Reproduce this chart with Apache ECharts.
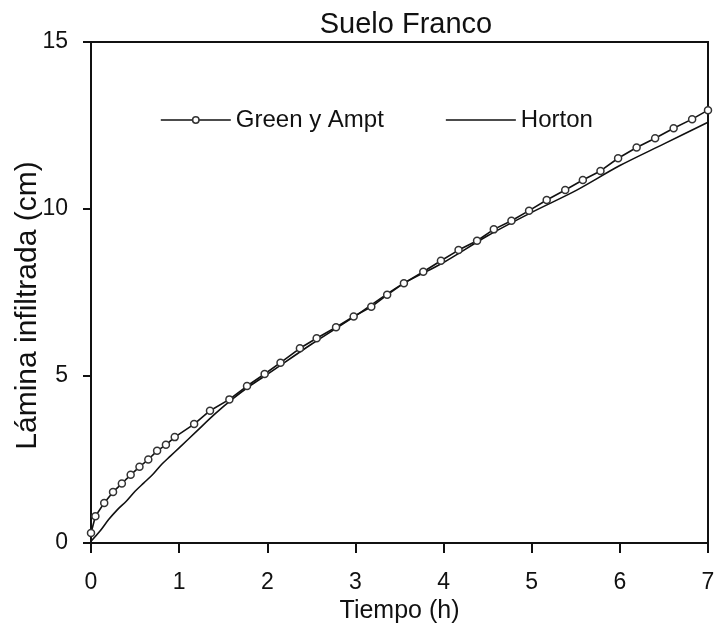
<!DOCTYPE html>
<html>
<head>
<meta charset="utf-8">
<script src="https://cdn.jsdelivr.net/npm/echarts@6/dist/echarts.min.js"></script>
<style>
  html, body { margin: 0; padding: 0; background: #fff; }
  #chart { width: 718px; height: 633px; }
</style>
</head>
<body>
<div id="chart"></div>
<script>
// --- Data ---
const gaTime = [0, 0.05, 0.15, 0.25, 0.35, 0.45, 0.55, 0.65, 0.75, 0.85, 0.95,
  1.17, 1.35, 1.57, 1.77, 1.97, 2.15, 2.37, 2.56, 2.78, 2.98, 3.18, 3.36, 3.55,
  3.77, 3.97, 4.17, 4.38, 4.57, 4.77, 4.97, 5.17, 5.38, 5.58, 5.78, 5.98, 6.19,
  6.4, 6.61, 6.82, 7.0];
const gaDepth = [0.3, 0.8, 1.2, 1.53, 1.78, 2.04, 2.28, 2.5, 2.76, 2.94, 3.17,
  3.56, 3.96, 4.3, 4.7, 5.06, 5.4, 5.83, 6.13, 6.46, 6.78, 7.07, 7.43, 7.78,
  8.12, 8.45, 8.77, 9.05, 9.39, 9.65, 9.95, 10.27, 10.57, 10.87, 11.14, 11.52,
  11.84, 12.12, 12.42, 12.69, 12.96];

const hortonTime = [0, 0.1, 0.2, 0.3, 0.4, 0.5, 0.6, 0.7, 0.8, 0.9, 1.0, 1.2,
  1.4, 1.6, 1.8, 2.0, 2.5, 3.0, 3.5, 4.0, 4.5, 5.0, 5.5, 6.0, 6.5, 7.0];
const hortonDepth = [0.05, 0.35, 0.7, 1.0, 1.25, 1.55, 1.8, 2.05, 2.35, 2.6,
  2.85, 3.35, 3.85, 4.3, 4.7, 5.05, 5.95, 6.8, 7.7, 8.4, 9.2, 9.9, 10.55, 11.3,
  11.95, 12.6];

const seriesNames = ['Green y Ampt', 'Horton'];
const xTicks = [0, 7, 1];   // min, max, interval
const yTicks = [0, 15, 5];

const font = '"Liberation Sans", Arial, sans-serif';
const ink = '#111';
const zip = (a, b) => a.map((v, i) => [v, b[i]]);

const chart = echarts.init(document.getElementById('chart'));
chart.setOption({
  animation: false,
  backgroundColor: '#fff',
  title: {
    text: 'Suelo Franco',
    left: 401, top: 5, textAlign: 'center',
    textStyle: { fontFamily: font, fontSize: 29, fontWeight: 'normal', color: ink }
  },
  legend: {
    left: 155, top: 103,
    itemWidth: 70, itemHeight: 8, itemGap: 62,
    textStyle: { fontFamily: font, fontSize: 24, color: ink },
    data: [
      {
        name: seriesNames[0],
        itemStyle: { color: '#fff', borderColor: '#333', borderWidth: 1.5 },
        lineStyle: { color: ink, width: 1.6 }
      },
      {
        name: seriesNames[1],
        icon: 'path://M0,0 L70,0 L70,1.6 L0,1.6 Z',
        itemStyle: { color: ink }
      }
    ]
  },
  grid: {
    left: 91, right: 10, top: 42, bottom: 90,
    outerBoundsMode: 'none', containLabel: false,
    show: true, borderColor: ink, borderWidth: 2
  },
  xAxis: {
    type: 'value', min: xTicks[0], max: xTicks[1], interval: xTicks[2],
    name: 'Tiempo (h)', nameLocation: 'middle', nameGap: 56, nameMoveOverlap: false,
    nameTextStyle: { fontFamily: font, fontSize: 25, color: ink },
    axisLine: { onZero: false, lineStyle: { color: ink, width: 2 } },
    axisTick: { length: 10, lineStyle: { color: ink, width: 2 } },
    axisLabel: { fontFamily: font, fontSize: 23, color: ink, margin: 28 },
    splitLine: { show: false }
  },
  yAxis: {
    type: 'value', min: yTicks[0], max: yTicks[1], interval: yTicks[2],
    name: 'Lámina infiltrada (cm)', nameLocation: 'middle', nameGap: 48, nameMoveOverlap: false,
    nameTextStyle: { fontFamily: font, fontSize: 30, color: ink, padding: [0, 26, 0, 0] },
    axisLine: { onZero: false, lineStyle: { color: ink, width: 2 } },
    axisTick: { length: 8, lineStyle: { color: ink, width: 2 } },
    axisLabel: { fontFamily: font, fontSize: 23, color: ink, margin: 23 },
    splitLine: { show: false }
  },
  series: [
    {
      name: seriesNames[0], type: 'line', data: zip(gaTime, gaDepth),
      symbol: 'circle', symbolSize: 7, showAllSymbol: true, clip: false,
      itemStyle: { color: '#fff', borderColor: '#333', borderWidth: 1.5 },
      lineStyle: { color: ink, width: 1.6 },
      z: 3
    },
    {
      name: seriesNames[1], type: 'line', data: zip(hortonTime, hortonDepth),
      symbol: 'none', smooth: 0.3,
      itemStyle: { color: ink },
      lineStyle: { color: ink, width: 1.6 },
      z: 2
    }
  ]
});
</script>
</body>
</html>
